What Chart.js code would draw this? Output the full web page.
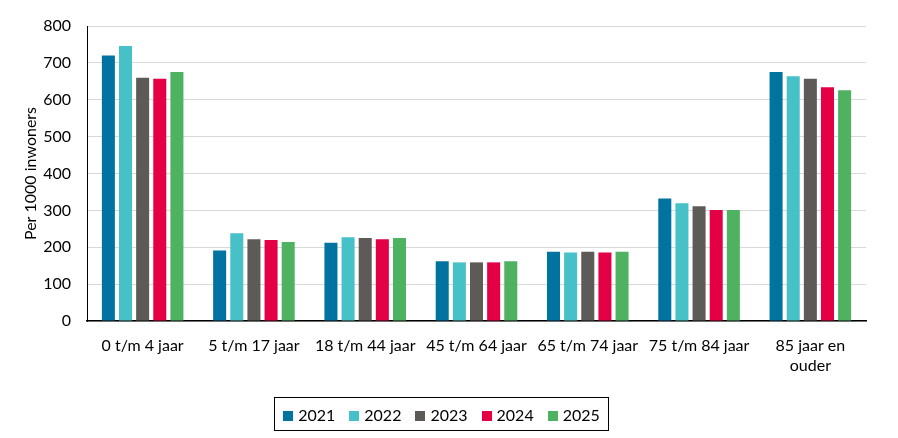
<!DOCTYPE html>
<html lang="nl">
<head>
    <meta charset="UTF-8">
    <title>Per 1000 inwoners naar leeftijd</title>
    <script src="https://cdn.jsdelivr.net/npm/chart.js"></script>
    <style>
        body {
            margin: 0;
            background: #fff;
            font-family: Lato, 'Open Sans', sans-serif;
        }
        .wrap {
            position: relative;
            width: 898px;
            height: 438px;
        }
        #legend {
            position: absolute;
            left: 274px;
            top: 397px;
            width: 333px;
            height: 32px;
            border: 1px solid #000;
            display: flex;
            justify-content: center;
            align-items: center;
            gap: 14px;
            font-size: 16px;
            color: #000;
        }
        #legend span.box {
            display: inline-block;
            width: 10px;
            height: 10px;
            margin-right: 5px;
        }
    </style>
</head>
<body>
    <div class="wrap">
        <canvas id="chart" width="898" height="438"></canvas>
        <div id="legend"></div>
    </div>

    <script>
        // data
        const categories = ['0 t/m 4 jaar', '5 t/m 17 jaar', '18 t/m 44 jaar', '45 t/m 64 jaar',
            '65 t/m 74 jaar', '75 t/m 84 jaar', ['85 jaar en', 'ouder']];
        const years = ['2021', '2022', '2023', '2024', '2025'];
        const v2021 = [720, 191, 212, 162, 188, 332, 675];
        const v2022 = [746, 238, 227, 159, 186, 319, 664];
        const v2023 = [660, 222, 225, 159, 188, 311, 657];
        const v2024 = [657, 220, 222, 159, 186, 301, 634];
        const v2025 = [675, 214, 225, 162, 188, 301, 626];
        const colors = ['#0073A0', '#45C1C7', '#5E5A57', '#E30045', '#4FB260'];

        const series = [v2021, v2022, v2023, v2024, v2025];
        const font = { family: 'Lato, "Open Sans", sans-serif', size: 16, lineHeight: 1.25 };

        const chart = new Chart(document.getElementById('chart'), {
            type: 'bar',
            data: {
                labels: categories,
                datasets: years.map((y, i) => ({
                    label: y,
                    data: series[i],
                    backgroundColor: colors[i],
                    categoryPercentage: 0.77,
                    barPercentage: 0.76
                }))
            },
            options: {
                responsive: false,
                animation: false,
                devicePixelRatio: 1,
                layout: { padding: { top: 15, right: 32, bottom: 41, left: 0 } },
                plugins: {
                    legend: { display: false },
                    tooltip: { enabled: false }
                },
                scales: {
                    x: {
                        grid: { display: false, drawTicks: false },
                        border: { color: '#000', width: 1.5 },
                        ticks: { font: font, color: '#000', padding: 15, maxRotation: 0, autoSkip: false },
                        afterFit: s => { s.height = 76; }
                    },
                    y: {
                        min: 0,
                        max: 800,
                        grid: { color: '#d9d9d9', drawTicks: false },
                        border: { color: '#000', width: 1 },
                        ticks: { stepSize: 100, font: font, color: '#000', padding: 16 },
                        title: { display: true, text: 'Per 1000 inwoners', font: font, color: '#000', padding: { top: 21, bottom: 0 } },
                        afterFit: s => { s.width = 87; }
                    }
                }
            }
        });

        // html legend in een kader
        const legend = document.getElementById('legend');
        chart.data.datasets.forEach(ds => {
            const item = document.createElement('div');
            item.innerHTML = '<span class="box" style="background:' + ds.backgroundColor + '"></span>' + ds.label;
            legend.appendChild(item);
        });
    </script>
</body>
</html>
